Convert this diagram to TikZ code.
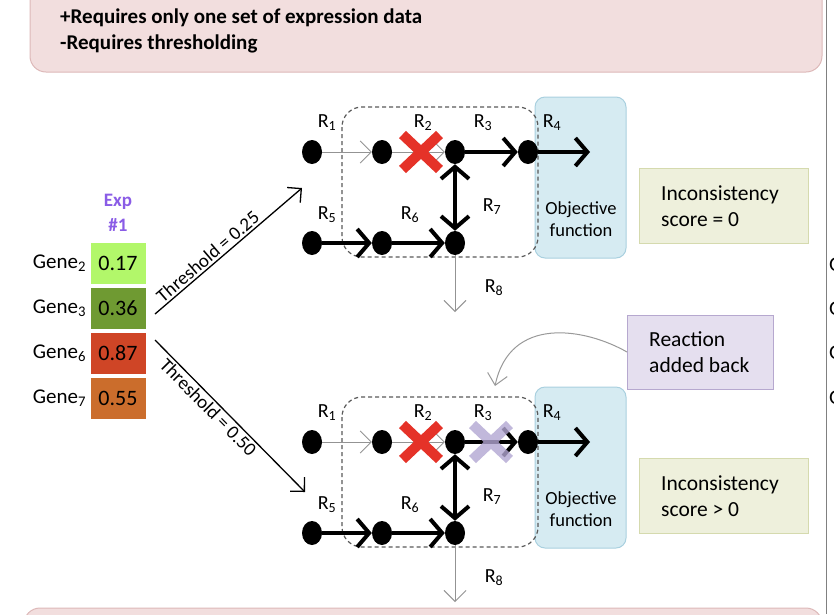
\documentclass[tikz,border=0pt]{standalone}
\usepackage{fontspec}
\setmainfont{Carlito}
\usetikzlibrary{positioning,shapes.geometric,shapes.misc,arrows.meta}

\definecolor{pinkfill}{HTML}{F2DEDE}
\definecolor{pinkline}{HTML}{DDB8B8}
\definecolor{objfill}{HTML}{D6EBF2}
\definecolor{objline}{HTML}{A9D0DF}
\definecolor{scorefill}{HTML}{EEF0DC}
\definecolor{scoreline}{HTML}{D5DAAE}
\definecolor{backfill}{HTML}{E5DFEF}
\definecolor{backline}{HTML}{B6A8CF}
\definecolor{expviolet}{HTML}{8A5CE6}
\definecolor{knockred}{HTML}{E53228}
\definecolor{knockviolet}{HTML}{B2A6D2}
\definecolor{lowgreen}{HTML}{B2F76A}
\definecolor{midgreen}{HTML}{6F9A32}
\definecolor{highred}{HTML}{CF4526}
\definecolor{highorange}{HTML}{CB6D2C}

\tikzset{
  metab/.style={ellipse, fill=black, minimum width=20pt, minimum height=24pt, inner sep=0pt},
  weakrxn/.style={draw=gray!85, line width=0.9pt, -{Straight Barb[length=11pt,width=22pt]}},
  strongrxn/.style={draw=black, line width=4pt, -{Straight Barb[length=12pt,width=28pt]}},
  bothrxn/.style={draw=black, line width=4pt, {Straight Barb[length=12pt,width=28pt]}-{Straight Barb[length=12pt,width=28pt]}},
  rlabel/.style={font=\fontsize{20}{22}\selectfont, inner sep=0pt},
  knockout/.style={cross out, line width=10pt, minimum width=27pt, minimum height=25pt, inner sep=0pt},
  subnet/.style={draw=gray!70!black, dashed, dash pattern=on 4pt off 3pt, line width=1.2pt, rounded corners=20pt},
  objbox/.style={fill=objfill, draw=objline, line width=1pt, rounded corners=10pt},
  plaintext/.style={font=\fontsize{18.5}{22}\selectfont, align=left, inner sep=0pt},
  bigtext/.style={font=\fontsize{21.5}{26}\selectfont, align=left, inner sep=0pt},
  cell/.style={minimum width=55pt, minimum height=41pt, inner sep=0pt, font=\fontsize{22}{24}\selectfont},
  genelabel/.style={font=\fontsize{21}{24}\selectfont, inner sep=0pt},
  thrline/.style={line width=1.3pt, -{Straight Barb[length=10pt,width=20pt]}},
  thrtext/.style={font=\fontsize{19}{21}\selectfont, inner sep=2pt},
  pointer/.style={draw=gray!80, line width=1pt, -{Straight Barb[length=11pt,width=20pt]}}
}

\begin{document}
\begin{tikzpicture}[x=1pt,y=-1pt]
\useasboundingbox (0,0) rectangle (834,614);
\begin{scope}
\clip (0,0) rectangle (834,614);
% pros and cons panel
\draw[fill=pinkfill, draw=pinkline, line width=1pt, rounded corners=16pt] (30,-40) rectangle (822,72);
\node[font=\fontsize{21}{26}\selectfont\bfseries, align=left, anchor=west, inner sep=0pt] (pros) at (60,31) {+Requires only one set of expression data\\-Requires thresholding};
% neighbouring panels
\draw[fill=pinkfill, draw=pinkline, line width=1pt, rounded corners=16pt] (24,608) rectangle (822,680);
\draw[draw=gray, line width=1pt] (826,0) -- (826,614);
\foreach \y in {265,309,353,398}
  \node[genelabel, anchor=west] (cut\y) at (829,\y) {Gene};
\end{scope}

% expression data
\node[font=\fontsize{19}{25}\selectfont\bfseries, text=expviolet, align=center, inner sep=0pt] (exp) at (118,213) {Exp\\\#1};
\foreach \g/\val/\col [count=\i] in {2/0.17/lowgreen, 3/0.36/midgreen, 6/0.87/highred, 7/0.55/highorange} {
  \node[cell, fill=\col] (exp\g) at (118,{218+45*\i}) {\val};
  \node[genelabel, left=4pt of exp\g] (gene\g) {Gene\textsubscript{\g}};
}

% thresholds
\coordinate (hi0) at (155,314);
\coordinate (hi1) at (302,188);
\coordinate (lo0) at (155,340);
\coordinate (lo1) at (305,492);
\draw[thrline] (hi0) -- (hi1) node[pos=0.4, above, sloped, thrtext] (thrhi) {Threshold = 0.25};
\draw[thrline] (lo0) -- (lo1) node[pos=0.4, below, sloped, thrtext] (thrlo) {Threshold = 0.50};

% the two networks
\foreach \k/\dy/\score in {1/0/{score = 0}, 2/290/{score > 0}} {
\begin{scope}[shift={(0,\dy)}]
  \draw[objbox] (535,97) rectangle (626,258);
  \node[plaintext, align=center] (obj\k) at (581,219) {Objective\\function};
  \draw[subnet] (342,107) rectangle (538,257);
  \draw[fill=scorefill, draw=scoreline, line width=1pt] (639,168) rectangle (808,243);
  \node[bigtext, anchor=west] (score\k) at (661,206) {Inconsistency\\\score};
  % metabolites
  \node[metab] (a\k) at (312,152) {};
  \node[metab] (b\k) at (382,152) {};
  \node[metab] (c\k) at (455,152) {};
  \node[metab] (d\k) at (528,152) {};
  \node[metab] (e\k) at (312,243) {};
  \node[metab] (f\k) at (382,243) {};
  \node[metab] (g\k) at (455,243) {};
  \coordinate (out\k) at (590,152);
  \coordinate (sink\k) at (455,312);
  % reactions
  \draw[weakrxn] (a\k) -- (b\k);
  \draw[weakrxn] (b\k) -- (c\k);
  \draw[strongrxn] (c\k) -- (d\k);
  \draw[strongrxn] (d\k) -- (out\k);
  \draw[strongrxn] (e\k) -- (f\k);
  \draw[strongrxn] (f\k) -- (g\k);
  \draw[bothrxn] (c\k) -- (g\k);
  \draw[weakrxn] (g\k) -- (sink\k);
  \node[knockout, draw=knockred] (ko\k) at (421,152) {};
  \node[rlabel] (r1\k) at (327,123) {R\textsubscript{1}};
  \node[rlabel] (r2\k) at (423,123) {R\textsubscript{2}};
  \node[rlabel] (r3\k) at (483,123) {R\textsubscript{3}};
  \node[rlabel] (r4\k) at (552,123) {R\textsubscript{4}};
  \node[rlabel] (r5\k) at (327,215) {R\textsubscript{5}};
  \node[rlabel] (r6\k) at (410,215) {R\textsubscript{6}};
  \node[rlabel] (r7\k) at (492,207) {R\textsubscript{7}};
  \node[rlabel] (r8\k) at (494,288) {R\textsubscript{8}};
\end{scope}
}
\node[knockout, draw=knockviolet, opacity=0.8] (back) at (491,442) {};

% reaction added back
\draw[fill=backfill, draw=backline, line width=1pt] (627,315) rectangle (773,389);
\node[bigtext, anchor=west] (added) at (649,352) {Reaction\\added back};
\coordinate (addtip) at (495,386);
\draw[pointer] (627,352) .. controls (585,328) and (510,315) .. (addtip);
\end{tikzpicture}
\end{document}
